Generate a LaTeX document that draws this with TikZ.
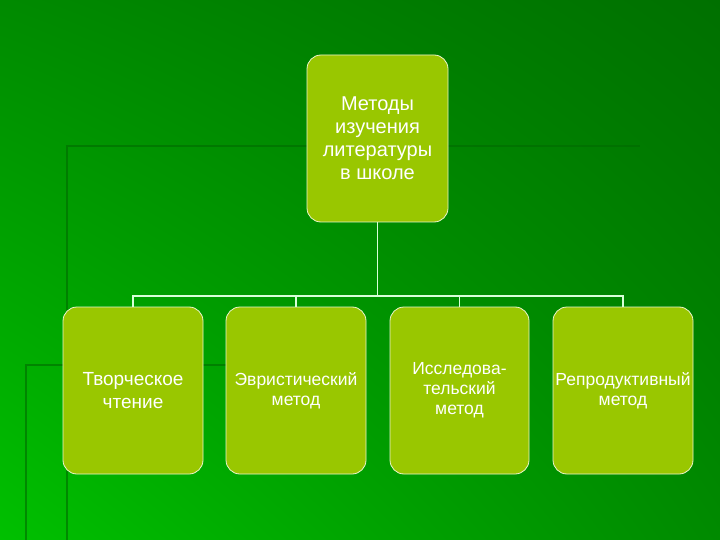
\documentclass[tikz,border=0pt]{standalone}
\usepackage{fontspec}
\setmainfont{Liberation Sans}
\usetikzlibrary{shadings}
\definecolor{boxg}{HTML}{99C700}
\definecolor{bgdark}{HTML}{007000}
\definecolor{bgmid}{HTML}{008A00}
\definecolor{bglight}{HTML}{00C000}
\definecolor{lineg}{HTML}{006A00}
\begin{document}
\begin{tikzpicture}[x=1pt,y=-1pt,
  box/.style={draw=white!80!boxg, line width=0.8pt, fill=boxg, rounded corners=14pt, text=white, align=center, inner sep=0pt},
  conn/.style={draw=white!85!green, line width=1.6pt}]
\useasboundingbox (0,0) rectangle (720,540);
\shade[upper right=bgdark, upper left=bgmid, lower right=bgmid, lower left=bglight] (0,0) rectangle (720,540);
\draw[lineg, line width=2.5pt, opacity=0.6] (67,540) -- (67,146) -- (640,146);
\draw[lineg, line width=2.5pt, opacity=0.6] (26,540) -- (26,365) -- (230,365);
\node[box, minimum width=141pt, minimum height=167pt, font=\fontsize{20}{23}\selectfont] (top) at (377.5,138.5) {Методы\\изучения\\литературы\\в школе};
\node[box, minimum width=140pt, minimum height=167pt, font=\fontsize{19}{23}\selectfont] (b1) at (133,390.5) {Творческое\\чтение};
\node[box, minimum width=140pt, minimum height=167pt, font=\fontsize{17.5}{20}\selectfont] (b2) at (296,390.5) {Эвристический\\метод};
\node[box, minimum width=139pt, minimum height=167pt, font=\fontsize{17.5}{20}\selectfont] (b3) at (459.5,390.5) {Исследова-\\тельский\\метод};
\node[box, minimum width=140pt, minimum height=167pt, font=\fontsize{17.5}{20}\selectfont] (b4) at (623,390.5) {Репродуктивный\\метод};
\coordinate (bus) at (377.5,296);
\draw[conn] (top.south) -- (bus);
\draw[conn] (b1.north) |- (bus) -| (b4.north);
\draw[conn] (b2.north) -- (b2.north |- bus);
\draw[conn] (b3.north) -- (b3.north |- bus);
\end{tikzpicture}
\end{document}
